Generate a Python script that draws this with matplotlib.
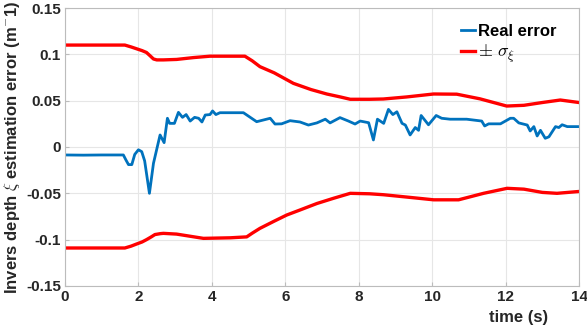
import matplotlib
matplotlib.use("Agg")
import matplotlib.pyplot as plt

# Real error (blue)
err_t = [0, 0.5, 1.0, 1.59, 1.66, 1.73, 1.82, 1.9, 2.0, 2.09, 2.17, 2.30, 2.41, 2.59, 2.70, 2.79,
         2.85, 2.98, 3.09, 3.20, 3.30, 3.41, 3.53, 3.64, 3.73, 3.82, 3.95, 4.02, 4.11, 4.22,
         4.5, 4.86, 5.22, 5.59, 5.72, 5.90, 6.13, 6.40, 6.63, 6.86, 7.09, 7.22, 7.49, 7.72,
         7.90, 8.04, 8.27, 8.40, 8.51, 8.68, 8.81, 8.93, 9.04, 9.18, 9.27, 9.40, 9.54, 9.63,
         9.70, 9.90, 10.11, 10.26, 10.49, 10.94, 11.35, 11.43, 11.54, 11.86, 12.13, 12.22,
         12.36, 12.59, 12.67, 12.77, 12.86, 12.95, 13.08, 13.18, 13.36, 13.45, 13.54, 13.68, 14.0]
err_v = [-0.0086, -0.0088, -0.0086, -0.0086, -0.014, -0.019, -0.019, -0.008, -0.003, -0.005, -0.015,
         -0.050, -0.0176, 0.013, 0.0047, 0.031, 0.0255, 0.0255, 0.0374, 0.032, 0.035, 0.028,
         0.032, 0.031, 0.027, 0.0345, 0.035, 0.0389, 0.035, 0.037, 0.037, 0.037, 0.0273, 0.031,
         0.0248, 0.025, 0.0284, 0.027, 0.0237, 0.026, 0.030, 0.026, 0.0317, 0.028, 0.0248,
         0.028, 0.0262, 0.0076, 0.030, 0.0255, 0.0406, 0.035, 0.038, 0.0255, 0.0237, 0.013,
         0.021, 0.018, 0.034, 0.024, 0.034, 0.031, 0.030, 0.030, 0.028, 0.0227, 0.025, 0.025,
         0.031, 0.031, 0.026, 0.0237, 0.0173, 0.022, 0.0119, 0.018, 0.0094, 0.011, 0.022,
         0.021, 0.024, 0.022, 0.022]

# +sigma bound (red)
up_t = [0, 1.0, 1.63, 1.80, 1.95, 2.10, 2.22, 2.33, 2.41, 2.5, 2.68, 3.04, 3.5, 3.95, 4.5, 4.9,
        5.1, 5.31, 5.7, 6.22, 6.7, 7.13, 7.5, 7.77, 8.3, 8.67, 9.3, 10.04, 10.67, 11.3, 12.03,
        12.5, 13.0, 13.49, 14.0]
up_v = [0.110, 0.110, 0.110, 0.108, 0.106, 0.104, 0.102, 0.098, 0.0950, 0.0940, 0.094, 0.0945,
        0.0965, 0.098, 0.098, 0.098, 0.093, 0.0867, 0.080, 0.0687, 0.062, 0.0572, 0.054, 0.0515,
        0.0515, 0.0518, 0.054, 0.0572, 0.057, 0.052, 0.0442, 0.045, 0.048, 0.0507, 0.048]

# -sigma bound (red)
lo_t = [0, 1.0, 1.63, 1.80, 1.95, 2.10, 2.22, 2.35, 2.45, 2.6, 2.68, 3.04, 3.77, 4.5, 4.95,
        5.1, 5.31, 5.7, 6.04, 6.4, 6.86, 7.31, 7.77, 8.3, 8.67, 9.3, 10.04, 10.72, 11.4, 12.04,
        12.5, 13.0, 13.4, 14.0]
lo_v = [-0.109, -0.109, -0.109, -0.107, -0.1047, -0.1025, -0.100, -0.097, -0.0945, -0.0935,
        -0.0932, -0.094, -0.0986, -0.098, -0.097, -0.093, -0.0878, -0.080, -0.0734, -0.068,
        -0.061, -0.0554, -0.050, -0.0505, -0.0515, -0.054, -0.057, -0.057, -0.050, -0.0446,
        -0.0455, -0.049, -0.050, -0.048]

xticks = [0, 2, 4, 6, 8, 10, 12, 14]
yticks = [-0.15, -0.1, -0.05, 0, 0.05, 0.1, 0.15]
ytick_labels = ["-0.15", "-0.1", "-0.05", "0", "0.05", "0.1", "0.15"]

plt.rcParams['font.family'] = ['Liberation Sans', 'DejaVu Sans']
plt.rcParams['mathtext.fontset'] = 'cm'

fig = plt.figure(figsize=(5.87, 3.31), dpi=100)
ax = fig.add_axes([0.1107, 0.136, 0.8757, 0.8398])

blue = '#0072BD'
red = '#FF0000'
ax.plot(err_t, err_v, color=blue, lw=2.0, label='Real error')
ax.plot(up_t, up_v, color=red, lw=2.4, label=r'$\pm\ \sigma_{\xi}$')
ax.plot(lo_t, lo_v, color=red, lw=2.4)

ax.set_xlim(0, 14)
ax.set_ylim(-0.15, 0.15)
ax.set_xticks(xticks)
ax.set_xticklabels([str(v) for v in xticks], fontweight='bold', fontsize=11)
ax.set_yticks(yticks)
ax.set_yticklabels(ytick_labels, fontweight='bold', fontsize=11)
ax.grid(True, color='#e6e6e6', lw=0.8)
ax.set_axisbelow(True)
for s in ax.spines.values():
    s.set_color('#bcbcbc')
    s.set_linewidth(0.8)
ax.tick_params(axis='both', colors='#bcbcbc', labelcolor='#262626', length=3, direction='in', pad=3)

ax.set_xlabel('time (s)', fontweight='bold', fontsize=12, color='#262626')
ax.xaxis.set_label_coords(0.883, -0.085)
ax.set_ylabel(r'Invers depth $\xi$ estimation error (m$^{\mathbf{-}}$1)', fontweight='bold',
              fontsize=12, color='#262626', labelpad=3)

leg = ax.legend(loc='upper left', bbox_to_anchor=(0.745, 0.99), frameon=False, handlelength=0.8,
                handletextpad=0.2, labelspacing=0.2, fontsize=12, borderpad=0.3)
leg.get_texts()[0].set_fontweight('bold')
leg.get_texts()[1].set_fontsize(13)

fig.savefig('out.png', dpi=100)
